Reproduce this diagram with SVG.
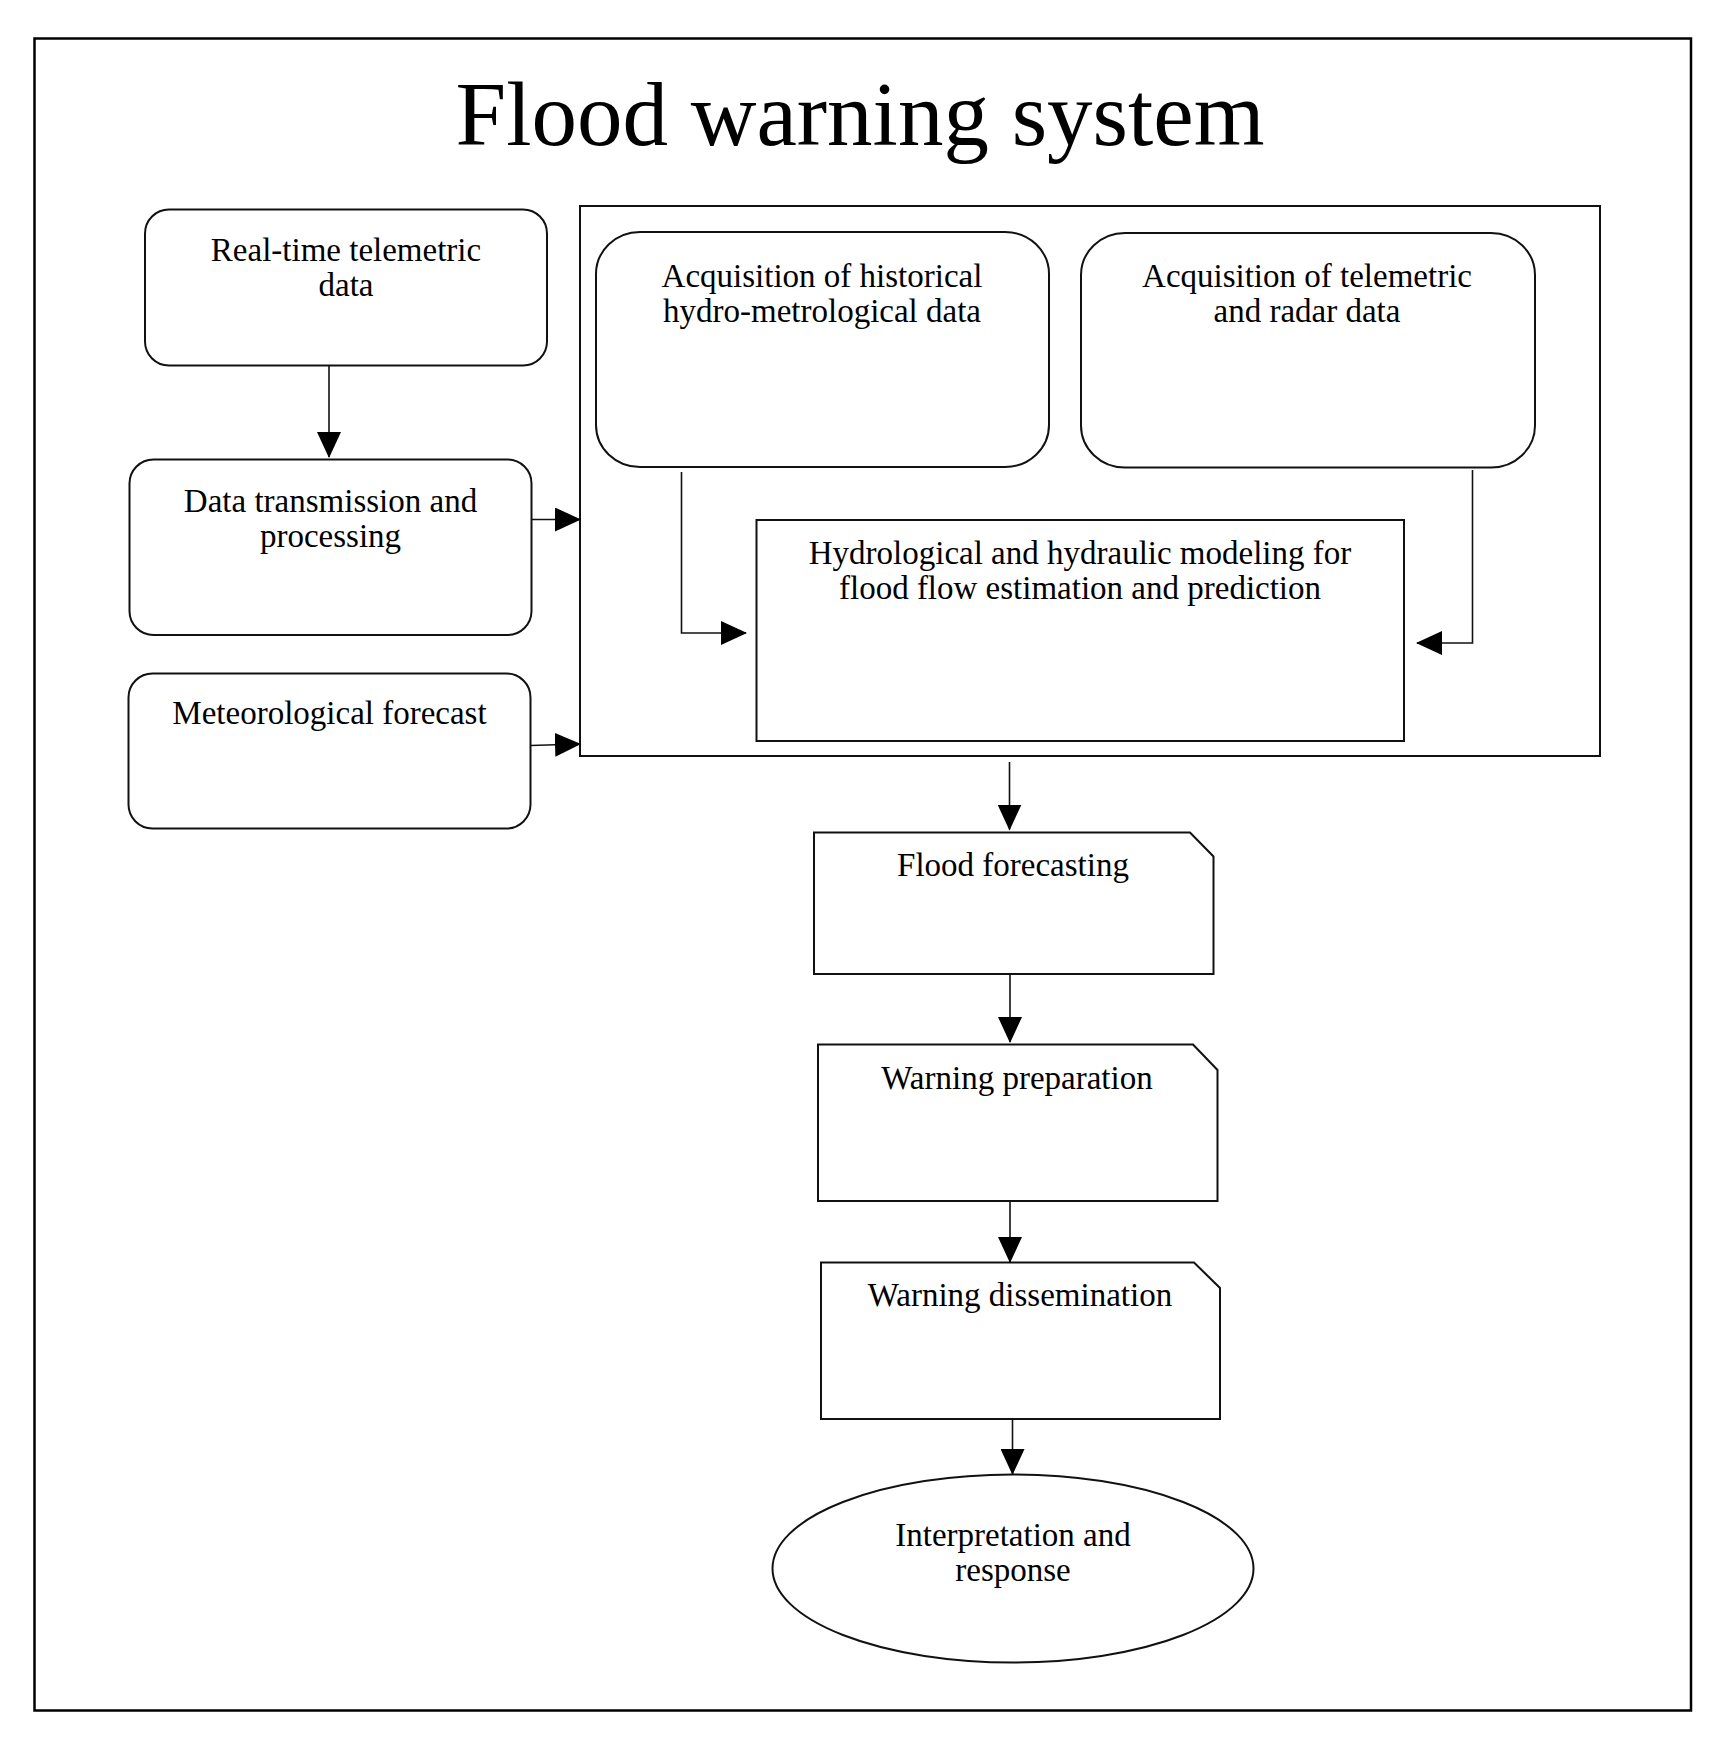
<svg xmlns="http://www.w3.org/2000/svg" width="1723" height="1741" viewBox="0 0 1723 1741">
<style>
  text { font-family: "Liberation Serif", "Times New Roman", serif; fill: #000; text-anchor: middle; }
  .lbl { font-size: 33px; }
  .title { font-size: 91px; }
  .shape { fill: #fff; stroke: #111; stroke-width: 2; }
  .conn { fill: none; stroke: #111; stroke-width: 1.6; }
</style>
<defs>
  <marker id="arrow" markerUnits="userSpaceOnUse" markerWidth="26" markerHeight="24" viewBox="0 0 26 24" refX="25" refY="12" orient="auto">
    <path d="M0,0 L26,12 L0,24 Z" fill="#000"/>
  </marker>
</defs>
<rect width="1723" height="1741" fill="#fff"/>
<rect id="frame" x="34.5" y="38.5" width="1656.5" height="1672" fill="none" stroke="#000" stroke-width="2.5"/>
<text class="title" x="860" y="145">Flood warning system</text>

<g id="container">
  <rect class="shape" x="580" y="206" width="1020" height="550"/>
</g>

<g id="realtime">
  <rect class="shape" x="145" y="209.5" width="402" height="156" rx="24" ry="24"/>
  <text class="lbl" x="346" y="261">Real-time telemetric</text>
  <text class="lbl" x="346" y="296">data</text>
</g>

<g id="transmission">
  <rect class="shape" x="129.5" y="459.5" width="402" height="175.5" rx="24" ry="24"/>
  <text class="lbl" x="330.5" y="512">Data transmission and</text>
  <text class="lbl" x="330.5" y="547">processing</text>
</g>

<g id="meteo">
  <rect class="shape" x="128.5" y="673.5" width="402" height="155" rx="24" ry="24"/>
  <text class="lbl" x="329.5" y="724">Meteorological forecast</text>
</g>

<g id="historical">
  <rect class="shape" x="596" y="232" width="453" height="235" rx="44" ry="42"/>
  <text class="lbl" x="822" y="287">Acquisition of historical</text>
  <text class="lbl" x="822" y="322">hydro-metrological data</text>
</g>

<g id="telemetric">
  <rect class="shape" x="1081" y="233" width="454" height="234.5" rx="44" ry="42"/>
  <text class="lbl" x="1307" y="287">Acquisition of telemetric</text>
  <text class="lbl" x="1307" y="322">and radar data</text>
</g>

<g id="modeling">
  <rect class="shape" x="756.5" y="520" width="647.5" height="221"/>
  <text class="lbl" x="1080" y="563.5">Hydrological and hydraulic modeling for</text>
  <text class="lbl" x="1080" y="598.5">flood flow estimation and prediction</text>
</g>

<g id="forecasting">
  <path class="shape" d="M814,832.5 H1190 L1213.5,856.5 V974 H814 Z"/>
  <text class="lbl" x="1013" y="875.5">Flood forecasting</text>
</g>

<g id="preparation">
  <path class="shape" d="M818,1044.5 H1193 L1217.5,1070 V1201 H818 Z"/>
  <text class="lbl" x="1017" y="1089">Warning preparation</text>
</g>

<g id="dissemination">
  <path class="shape" d="M821,1262.5 H1194 L1220,1288 V1419 H821 Z"/>
  <text class="lbl" x="1020" y="1305.5">Warning dissemination</text>
</g>

<g id="response">
  <ellipse class="shape" cx="1013" cy="1568.5" rx="240.5" ry="94"/>
  <text class="lbl" x="1013" y="1545.5">Interpretation and</text>
  <text class="lbl" x="1013" y="1581">response</text>
</g>

<g id="connectors">
  <path class="conn" d="M329,366 V457" marker-end="url(#arrow)"/>
  <path class="conn" d="M531.5,519.5 H580" marker-end="url(#arrow)"/>
  <path class="conn" d="M530.5,745.5 L580,744" marker-end="url(#arrow)"/>
  <path class="conn" d="M681.5,472 V633 H746" marker-end="url(#arrow)"/>
  <path class="conn" d="M1472.5,470 V643 H1417" marker-end="url(#arrow)"/>
  <path class="conn" d="M1009.5,762 V829.5" marker-end="url(#arrow)"/>
  <path class="conn" d="M1010,974 V1042" marker-end="url(#arrow)"/>
  <path class="conn" d="M1010,1201 V1262" marker-end="url(#arrow)"/>
  <path class="conn" d="M1012.5,1419 V1474" marker-end="url(#arrow)"/>
</g>
</svg>
